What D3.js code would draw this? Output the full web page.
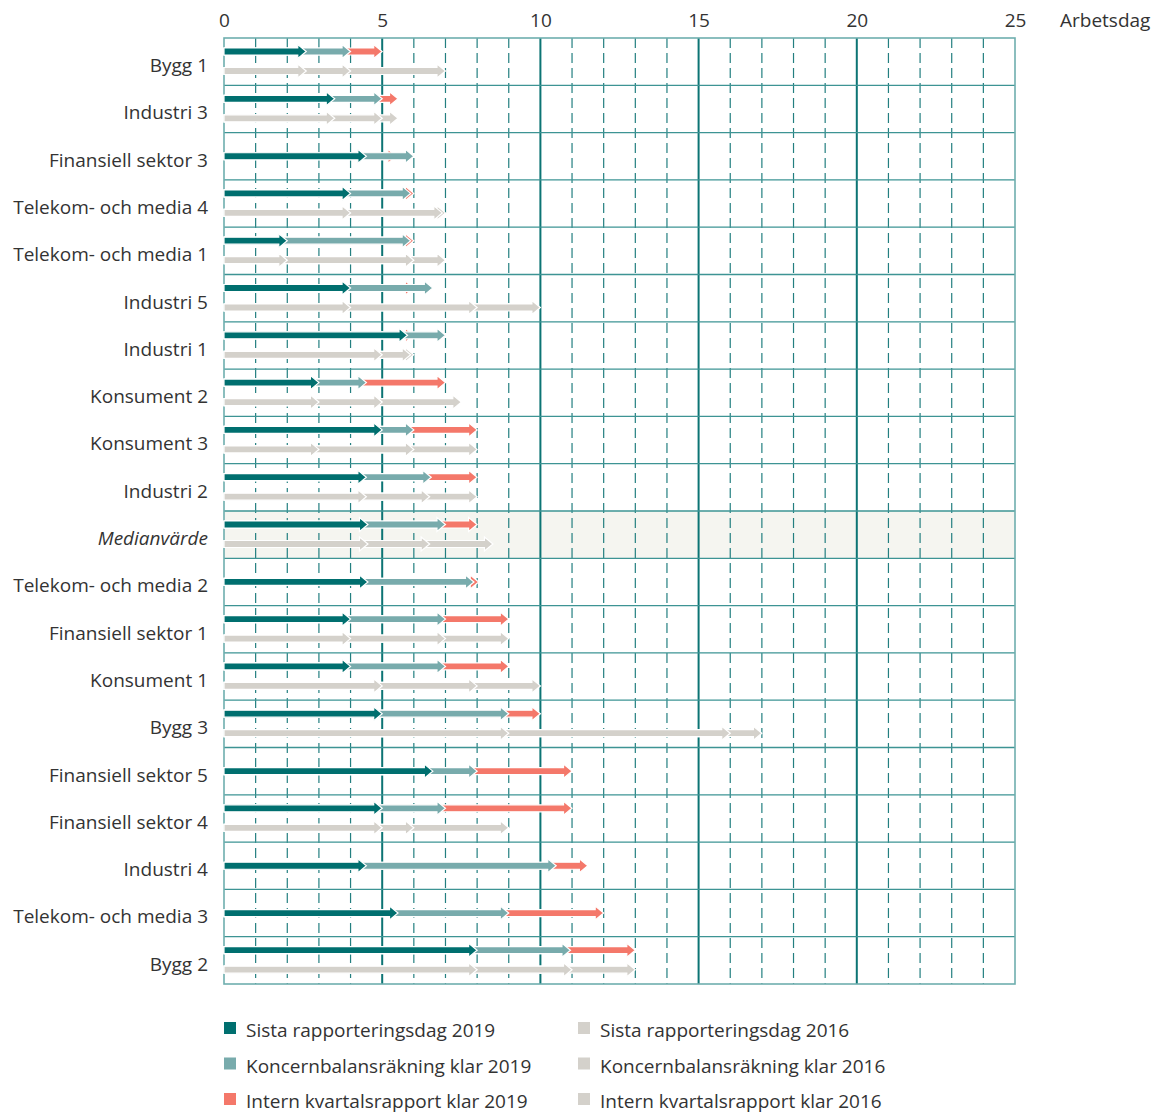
<!DOCTYPE html>
<html>
<head>
<meta charset="utf-8">
<script src="https://cdn.jsdelivr.net/npm/d3@7"></script>
<style>
  html, body { margin: 0; padding: 0; background: #fff; }
  svg { display: block; }
  text { font-family: "Open Sans", "Lato", sans-serif; fill: #333; }
</style>
</head>
<body>
<svg id="chart" width="1156" height="1113"></svg>
<script>
// Companies (rows, top to bottom)
const categories = [
  "Bygg 1", "Industri 3", "Finansiell sektor 3", "Telekom- och media 4",
  "Telekom- och media 1", "Industri 5", "Industri 1", "Konsument 2",
  "Konsument 3", "Industri 2", "Medianvärde", "Telekom- och media 2",
  "Finansiell sektor 1", "Konsument 1", "Bygg 3", "Finansiell sektor 5",
  "Finansiell sektor 4", "Industri 4", "Telekom- och media 3", "Bygg 2"
];
const medianLabel = "Medianvärde";

// Working day on which each milestone was reached, 2019
const sista2019   = [2.6, 3.5, 4.5, 4.0, 2.0, 4.0, 5.8, 3.0, 5.0, 4.5, 4.55, 4.55, 4.0, 4.0, 5.0, 6.6, 5.0, 4.5, 5.5, 8.0];
const koncern2019 = [4.0, 5.0, 6.0, 5.9, 5.9, 6.6, 7.0, 4.5, 6.0, 6.55, 7.0, 7.9, 7.0, 7.0, 9.0, 8.0, 7.0, 10.5, 9.0, 10.95];
const intern2019  = [5.0, 5.5, 5.45, 6.0, 6.0, 6.0, 6.0, 7.0, 8.0, 8.0, 8.0, 8.05, 9.0, 9.0, 10.0, 11.0, 11.0, 11.5, 12.0, 13.0];

// Same milestones, 2016 (null = not reported)
const sista2016   = [2.6, 3.5, null, 4.0, 2.0, 4.0, 5.0, 3.0, 3.0, 4.5, 4.55, null, 4.0, 5.0, 9.0, null, 5.0, null, null, 8.0];
const koncern2016 = [4.0, 5.0, null, 6.9, 6.0, 8.0, 5.9, 5.0, 6.0, 6.5, 6.5, null, 7.0, 8.0, 16.0, null, 6.0, null, null, 11.0];
const intern2016  = [7.0, 5.5, null, 7.0, 7.0, 10.0, 6.0, 7.5, 8.0, 8.0, 8.5, null, 9.0, 10.0, 17.0, null, 9.0, null, null, 13.0];

const xTicks = [0, 5, 10, 15, 20, 25];
const xUnit = "Arbetsdag";

const legendLabels = [
  "Sista rapporteringsdag 2019", "Koncernbalansräkning klar 2019", "Intern kvartalsrapport klar 2019",
  "Sista rapporteringsdag 2016", "Koncernbalansräkning klar 2016", "Intern kvartalsrapport klar 2016"
];

// Palette
const C = {
  sista: "#006f6f", koncern: "#78abac", intern: "#f4786a", grey: "#d4d1cb",
  major: "#0c7474", minor: "#237f80", rowLine: "#3d9494", frame: "#6eaeae", medianBg: "#f5f5f0"
};

const FONT = 19;
const svg = d3.select("#chart");
const plotLeft = 224, plotRight = 1015, plotTop = 38, plotBottom = 984;

const x = d3.scaleLinear().domain([0, 25]).range([plotLeft, plotRight]);
const y = d3.scaleBand().domain(categories).range([plotTop, plotBottom]).padding(0);
const bw = y.bandwidth();

// Median row background
svg.append("rect")
  .attr("x", plotLeft).attr("y", y(medianLabel))
  .attr("width", plotRight - plotLeft).attr("height", bw)
  .attr("fill", C.medianBg);

// Vertical grid: solid every 5 days, dashed every day
const grid = svg.append("g");
d3.range(1, 25).forEach(d => {
  const major = d % 5 === 0;
  grid.append("line")
    .attr("x1", x(d)).attr("x2", x(d))
    .attr("y1", plotTop).attr("y2", plotBottom)
    .attr("stroke", major ? C.major : C.minor)
    .attr("stroke-width", major ? 2 : 1.2)
    .attr("stroke-dasharray", major ? null : "10,5");
});

// Row separators
categories.slice(1).forEach(c => {
  svg.append("line")
    .attr("x1", plotLeft).attr("x2", plotRight)
    .attr("y1", y(c)).attr("y2", y(c))
    .attr("stroke", C.rowLine).attr("stroke-width", 1.3);
});

// Frame
svg.append("rect")
  .attr("x", plotLeft).attr("y", plotTop)
  .attr("width", plotRight - plotLeft).attr("height", plotBottom - plotTop)
  .attr("fill", "none").attr("stroke", C.frame).attr("stroke-width", 1.6);

// Top axis
const axis = svg.append("g")
  .attr("transform", `translate(0,${plotTop})`)
  .call(d3.axisTop(x).tickValues(xTicks).tickSize(0).tickPadding(11));
axis.select(".domain").remove();
axis.selectAll("text")
  .style("font-family", "'Open Sans', Lato, sans-serif")
  .style("font-size", FONT + "px").attr("fill", "#333");

svg.append("text")
  .attr("x", 1060).attr("y", 27)
  .style("font-size", FONT + "px")
  .text(xUnit);

// Row labels
svg.append("g").selectAll("text")
  .data(categories)
  .join("text")
  .attr("x", 208)
  .attr("y", d => y(d) + 34)
  .attr("text-anchor", "end")
  .style("font-size", FONT + "px")
  .style("font-style", d => d === medianLabel ? "italic" : "normal")
  .text(d => d);

// Arrow shape from day 0 to `v`
const SHAFT = 3.5, HEAD = 7, HEADLEN = 8.5;
function arrowPath(v, cy) {
  const x0 = x(0), x1 = x(v), xb = Math.max(x0, x1 - HEADLEN);
  const p = d3.path();
  p.moveTo(x0, cy - SHAFT);
  p.lineTo(xb, cy - SHAFT);
  p.lineTo(xb, cy - HEAD);
  p.lineTo(x1, cy);
  p.lineTo(xb, cy + HEAD);
  p.lineTo(xb, cy + SHAFT);
  p.lineTo(x0, cy + SHAFT);
  p.closePath();
  return p.toString();
}

const arrows = svg.append("g");
categories.forEach((c, i) => {
  const has2016 = sista2016[i] !== null;
  const y19 = has2016 ? y(c) + 13.5 : y(c) + bw / 2;
  const y16 = y(c) + 33;
  // later milestones underneath, earlier ones on top
  [[intern2019, C.intern], [koncern2019, C.koncern], [sista2019, C.sista]].forEach(([arr, col]) => {
    arrows.append("path").attr("d", arrowPath(arr[i], y19))
      .attr("fill", col).attr("stroke", "#fff").attr("stroke-width", 1.2);
  });
  if (has2016) {
    [intern2016, koncern2016, sista2016].forEach(arr => {
      arrows.append("path").attr("d", arrowPath(arr[i], y16))
        .attr("fill", C.grey).attr("stroke", "#fff").attr("stroke-width", 1.2);
    });
  }
});

// Legend
const legendColors = [C.sista, C.koncern, C.intern, C.grey, C.grey, C.grey];
const lg = svg.append("g");
legendLabels.forEach((t, i) => {
  const col = Math.floor(i / 3), row = i % 3;
  const lx = col === 0 ? 224 : 578;
  const ly = 1030 + row * 35.5;
  lg.append("rect").attr("x", lx).attr("y", ly - 8).attr("width", 12).attr("height", 12)
    .attr("fill", legendColors[i]);
  lg.append("text").attr("x", lx + 22).attr("y", ly + 7)
    .style("font-size", FONT + "px").text(t);
});
</script>
</body>
</html>
